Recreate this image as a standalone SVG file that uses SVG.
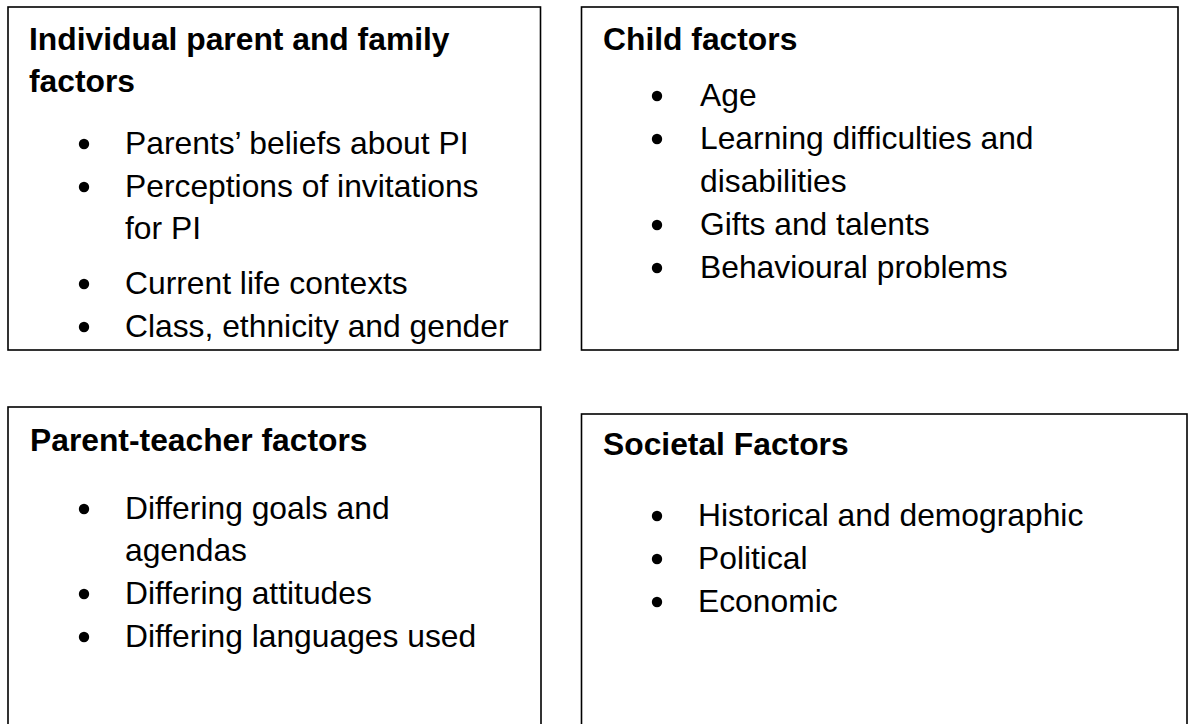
<svg xmlns="http://www.w3.org/2000/svg" width="1190" height="724" viewBox="0 0 1190 724">
<style>
.box{fill:#fff;stroke:#000;stroke-width:1.6}
.h{font-family:"Liberation Sans",Arial,sans-serif;font-weight:bold;font-size:31.8px;fill:#000}
.t{font-family:"Liberation Sans",Arial,sans-serif;font-size:31.8px;fill:#000}
.b{fill:#000}
</style>
<rect width="1190" height="724" fill="#fff"/>
<g id="individual">
<rect class="box" x="8" y="7" width="532.5" height="343"/>
<text class="h" x="29" y="50">Individual parent and family</text>
<text class="h" x="29" y="92">factors</text>
<circle class="b" cx="84" cy="144" r="5.2"/><text class="t" x="125" y="154">Parents’ beliefs about PI</text>
<circle class="b" cx="84" cy="187" r="5.2"/><text class="t" x="125" y="197">Perceptions of invitations</text>
<text class="t" x="125" y="239">for PI</text>
<circle class="b" cx="84" cy="284" r="5.2"/><text class="t" x="125" y="294">Current life contexts</text>
<circle class="b" cx="84" cy="327" r="5.2"/><text class="t" x="125" y="337">Class, ethnicity and gender</text>
</g>
<g id="child">
<rect class="box" x="581.5" y="7" width="596.5" height="343"/>
<text class="h" x="603" y="50">Child factors</text>
<circle class="b" cx="657" cy="96" r="5.2"/><text class="t" x="700" y="106">Age</text>
<circle class="b" cx="657" cy="139" r="5.2"/><text class="t" x="700" y="149">Learning difficulties and</text>
<text class="t" x="700" y="192">disabilities</text>
<circle class="b" cx="657" cy="225" r="5.2"/><text class="t" x="700" y="235">Gifts and talents</text>
<circle class="b" cx="657" cy="268" r="5.2"/><text class="t" x="700" y="278">Behavioural problems</text>
</g>
<g id="parent-teacher">
<rect class="box" x="8" y="407" width="533" height="330"/>
<text class="h" x="30" y="451">Parent-teacher factors</text>
<circle class="b" cx="84" cy="509" r="5.2"/><text class="t" x="125" y="519">Differing goals and</text>
<text class="t" x="125" y="561">agendas</text>
<circle class="b" cx="84" cy="594" r="5.2"/><text class="t" x="125" y="604">Differing attitudes</text>
<circle class="b" cx="84" cy="637" r="5.2"/><text class="t" x="125" y="647">Differing languages used</text>
</g>
<g id="societal">
<rect class="box" x="581.5" y="414" width="605.5" height="330"/>
<text class="h" x="603" y="455">Societal Factors</text>
<circle class="b" cx="657" cy="516" r="5.2"/><text class="t" x="698" y="526">Historical and demographic</text>
<circle class="b" cx="657" cy="559" r="5.2"/><text class="t" x="698" y="569">Political</text>
<circle class="b" cx="657" cy="602" r="5.2"/><text class="t" x="698" y="612">Economic</text>
</g>
<g id="connectors"/>
</svg>
